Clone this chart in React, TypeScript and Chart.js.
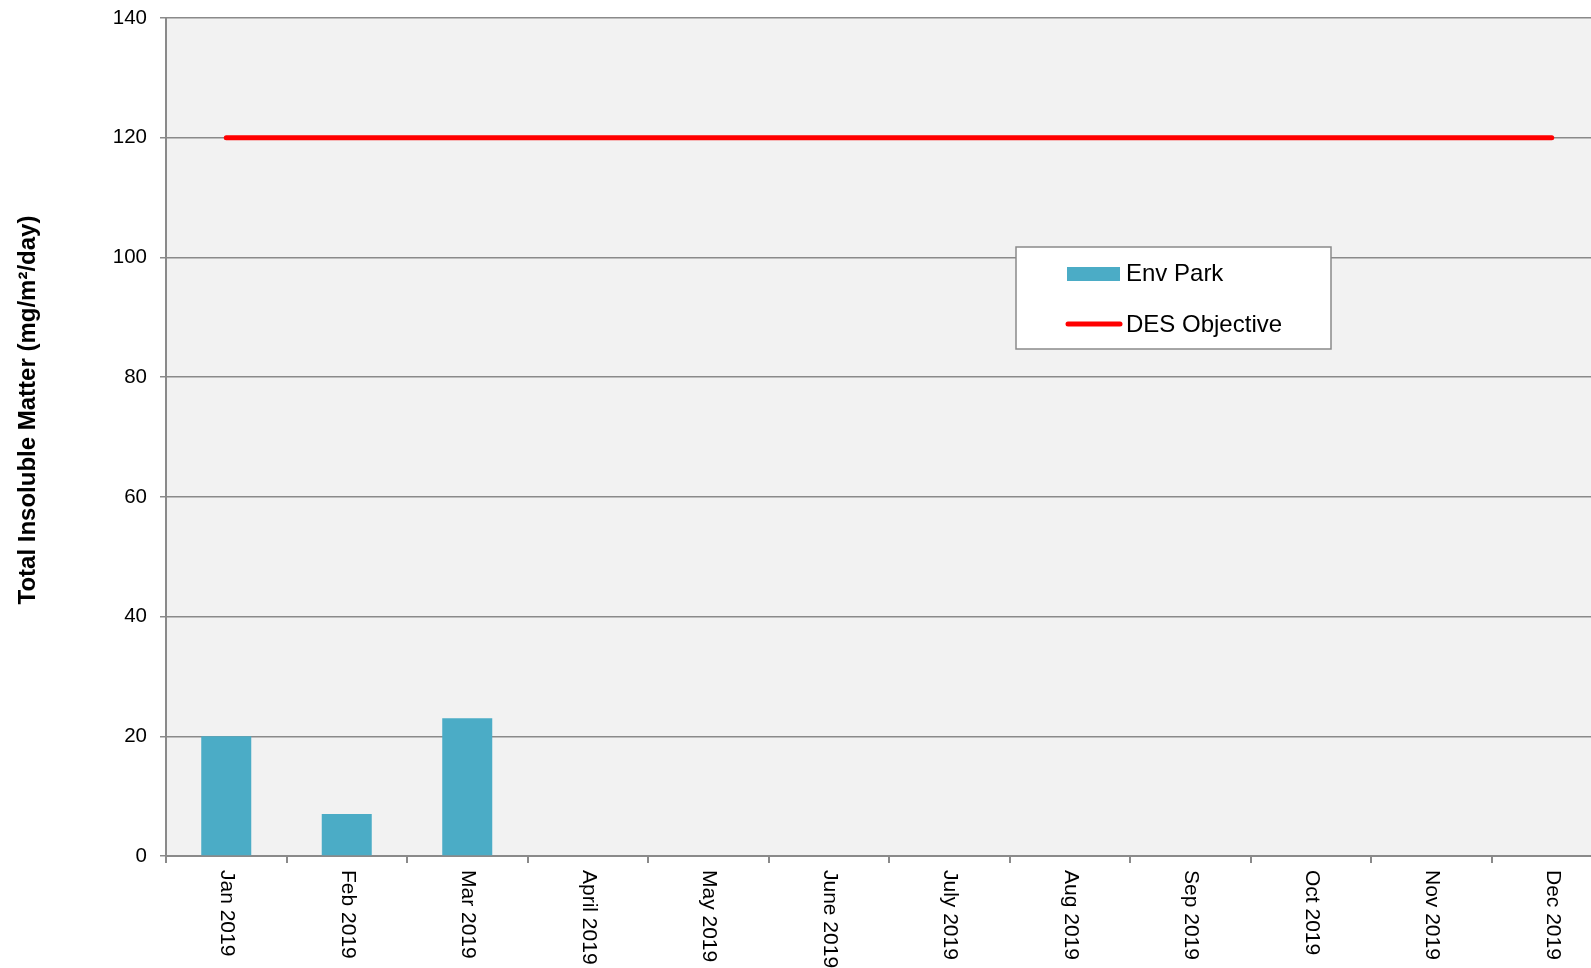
import React, { useEffect, useRef } from "react";
import { Chart, registerables } from "chart.js";

Chart.register(...registerables);

const months = [
  "Jan 2019", "Feb 2019", "Mar 2019", "April 2019", "May 2019", "June 2019",
  "July 2019", "Aug 2019", "Sep 2019", "Oct 2019", "Nov 2019", "Dec 2019",
];
const envPark: (number | null)[] = [20, 7, 23, null, null, null, null, null, null, null, null, null];
const desObjective = [120, 120, 120, 120, 120, 120, 120, 120, 120, 120, 120, 120];
const yMin = 0;
const yMax = 140;
const yStep = 20;
const yTitle = "Total Insoluble Matter (mg/m²/day)";

const FONT = "'Liberation Sans', Arial, Helvetica, sans-serif";
const BAR_COLOR = "#4BACC6";
const LINE_COLOR = "#FF0000";
const GRID_COLOR = "#8a8a8a";

const CANVAS_W = 1630;
const CANVAS_H = 968;

const decorPlugin = {
  id: "decor",
  beforeDraw(chart: any) {
    const { ctx, chartArea } = chart;
    ctx.save();
    ctx.fillStyle = "#f2f2f2";
    ctx.fillRect(chartArea.left, chartArea.top, chartArea.right - chartArea.left, chartArea.bottom - chartArea.top);
    ctx.restore();
  },
  afterDraw(chart: any) {
    const { ctx } = chart;
    const xs = chart.scales.x;
    // rotated x labels (reading top to bottom)
    ctx.save();
    ctx.fillStyle = "#000";
    ctx.font = `21px ${FONT}`;
    ctx.textAlign = "left";
    ctx.textBaseline = "middle";
    const labels = chart.data.labels as string[];
    labels.forEach((lab, i) => {
      const x = xs.getPixelForTick(i);
      ctx.save();
      ctx.translate(x + 1, chart.chartArea.bottom + 14);
      ctx.rotate(Math.PI / 2);
      ctx.fillText(lab, 0, 0);
      ctx.restore();
    });
    ctx.restore();

    // y title
    ctx.save();
    ctx.fillStyle = "#000";
    ctx.font = `bold 24px ${FONT}`;
    ctx.textAlign = "center";
    ctx.textBaseline = "middle";
    ctx.translate(28, 410);
    ctx.rotate(-Math.PI / 2);
    ctx.fillText(yTitle, 0, 0);
    ctx.restore();

    // legend box
    const ds = chart.data.datasets;
    const bx = 1016, by = 247, bw = 315, bh = 102;
    ctx.save();
    ctx.fillStyle = "#ffffff";
    ctx.fillRect(bx, by, bw, bh);
    ctx.strokeStyle = GRID_COLOR;
    ctx.lineWidth = 1.5;
    ctx.strokeRect(bx, by, bw, bh);
    // bar swatch
    ctx.fillStyle = ds[0].backgroundColor;
    ctx.fillRect(1067, 267, 53, 14);
    // line swatch
    ctx.strokeStyle = ds[1].borderColor;
    ctx.lineWidth = 5;
    ctx.lineCap = "round";
    ctx.beginPath();
    ctx.moveTo(1068, 324);
    ctx.lineTo(1120, 324);
    ctx.stroke();
    ctx.fillStyle = "#000";
    ctx.font = `24px ${FONT}`;
    ctx.textAlign = "left";
    ctx.textBaseline = "middle";
    ctx.fillText(ds[0].label, 1126, 274);
    ctx.fillText(ds[1].label, 1126, 325);
    ctx.restore();
  },
};

export default function App() {
  const ref = useRef<HTMLCanvasElement | null>(null);
  useEffect(() => {
    if (!ref.current) return;
    const chart = new Chart(ref.current, {
      type: "bar",
      data: {
        labels: months,
        datasets: [
          {
            type: "bar",
            label: "Env Park",
            data: envPark,
            backgroundColor: BAR_COLOR,
            borderWidth: 0,
            barPercentage: 0.415,
            categoryPercentage: 1,
            order: 1,
          } as any,
          {
            type: "line",
            label: "DES Objective",
            data: desObjective,
            borderColor: LINE_COLOR,
            backgroundColor: LINE_COLOR,
            borderWidth: 5,
            borderCapStyle: "round",
            pointRadius: 0,
            order: 0,
          } as any,
        ],
      },
      options: {
        responsive: false,
        animation: false,
        layout: { padding: { top: 18, right: CANVAS_W - 1612, left: 0, bottom: 0 } },
        plugins: { legend: { display: false }, tooltip: { enabled: false } },
        scales: {
          x: {
            offset: true,
            grid: {
              offset: true,
              drawOnChartArea: false,
              drawTicks: true,
              tickLength: 7,
              color: GRID_COLOR,
              lineWidth: 2,
            },
            border: { color: GRID_COLOR, width: 2 },
            ticks: { display: false },
            afterFit: (s: any) => { s.height = 112; s.paddingLeft = 0; s.paddingRight = 0; },
          },
          y: {
            min: yMin,
            max: yMax,
            ticks: {
              stepSize: yStep,
              color: "#000",
              font: { size: 20.5, family: FONT },
              padding: 13,
            },
            grid: {
              color: GRID_COLOR,
              lineWidth: 1.5,
              tickLength: 6,
            },
            border: { color: GRID_COLOR, width: 2 },
            afterFit: (s: any) => { s.width = 166; s.paddingTop = 0; s.paddingBottom = 0; },
          },
        },
      } as any,
      plugins: [decorPlugin],
    });
    return () => chart.destroy();
  }, []);
  return (
    <div style={{ position: "fixed", left: 0, top: 0, width: "100vw", height: "100vh", overflow: "hidden", background: "#fff" }}>
      <canvas ref={ref} width={CANVAS_W} height={CANVAS_H} style={{ display: "block", width: CANVAS_W, height: CANVAS_H }} />
    </div>
  );
}
